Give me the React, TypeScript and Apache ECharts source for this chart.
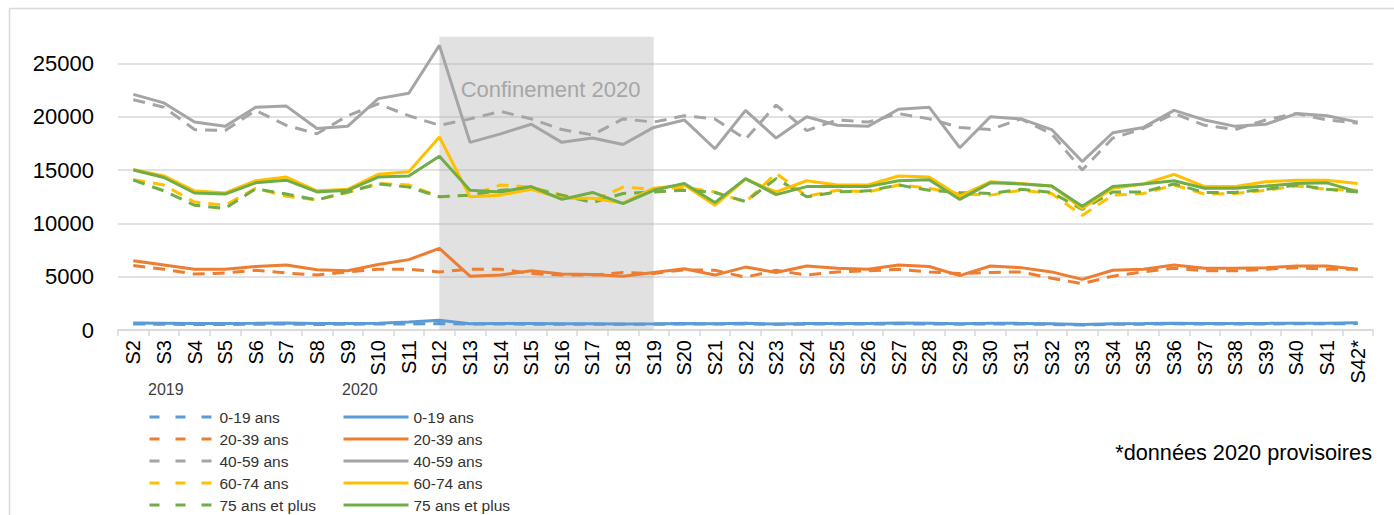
import React, { useEffect, useRef } from 'react';
import * as echarts from 'echarts';

const categories = [
  'S2', 'S3', 'S4', 'S5', 'S6', 'S7', 'S8', 'S9', 'S10', 'S11', 'S12', 'S13', 'S14', 'S15',
  'S16', 'S17', 'S18', 'S19', 'S20', 'S21', 'S22', 'S23', 'S24', 'S25', 'S26', 'S27', 'S28',
  'S29', 'S30', 'S31', 'S32', 'S33', 'S34', 'S35', 'S36', 'S37', 'S38', 'S39', 'S40', 'S41', 'S42*',
];

const ageGroups = ['0-19 ans', '20-39 ans', '40-59 ans', '60-74 ans', '75 ans et plus'];
const colors = ['#5b9bd5', '#ed7d31', '#a5a5a5', '#ffc000', '#70ad47'];

// 2019 (dashed)
const y2019_0_19 = [560, 540, 520, 520, 540, 560, 520, 540, 560, 570, 600, 560, 560, 540, 530, 530, 540, 540, 560, 560, 560, 540, 550, 560, 560, 580, 560, 550, 560, 560, 520, 470, 530, 550, 580, 560, 560, 570, 580, 580, 600];
const y2019_20_39 = [6050, 5700, 5250, 5350, 5600, 5350, 5150, 5450, 5700, 5700, 5450, 5700, 5700, 5300, 5150, 5150, 5400, 5300, 5650, 5600, 4950, 5600, 5150, 5450, 5550, 5700, 5450, 5300, 5400, 5450, 4850, 4350, 5050, 5450, 5800, 5550, 5550, 5700, 5850, 5700, 5700];
const y2019_40_59 = [21600, 20900, 18800, 18700, 20600, 19200, 18400, 20100, 21200, 20100, 19200, 19800, 20500, 19800, 18800, 18300, 19800, 19500, 20100, 19800, 17900, 21100, 18700, 19700, 19500, 20300, 19800, 19000, 18800, 19800, 18400, 15000, 18000, 18900, 20300, 19200, 18800, 19700, 20300, 19700, 19400];
const y2019_60_74 = [14100, 13600, 12000, 11700, 13300, 12550, 12200, 12900, 13750, 13600, 12500, 12650, 13600, 13400, 12650, 12100, 13400, 13200, 13400, 12950, 12000, 14700, 12550, 13100, 12950, 13600, 13300, 12750, 12650, 13100, 12800, 10750, 12650, 12800, 13600, 12750, 12800, 13100, 13500, 13200, 13100];
const y2019_75 = [14050, 13050, 11700, 11400, 13250, 12750, 12200, 12950, 13700, 13400, 12500, 12650, 13100, 13300, 12650, 11950, 12800, 12950, 13100, 12900, 12050, 14200, 12500, 12950, 13050, 13600, 13100, 12900, 12800, 13200, 12900, 11300, 12950, 12950, 13700, 12900, 12900, 13200, 13600, 13200, 12950];

// 2020 (solid)
const y2020_0_19 = [650, 640, 620, 620, 630, 660, 600, 610, 640, 740, 920, 580, 620, 610, 580, 590, 570, 580, 610, 580, 630, 570, 600, 610, 620, 660, 630, 590, 640, 620, 580, 510, 590, 610, 640, 620, 610, 620, 640, 640, 680];
const y2020_20_39 = [6500, 6100, 5700, 5700, 5950, 6100, 5650, 5550, 6150, 6600, 7650, 5050, 5150, 5550, 5250, 5200, 5050, 5400, 5750, 5150, 5900, 5400, 6000, 5800, 5700, 6100, 5950, 5100, 6000, 5850, 5450, 4750, 5600, 5700, 6100, 5800, 5800, 5850, 6000, 6000, 5700];
const y2020_40_59 = [22100, 21300, 19500, 19100, 20900, 21000, 18900, 19100, 21700, 22200, 26700, 17600, 18400, 19300, 17600, 18000, 17400, 19000, 19700, 17000, 20600, 18000, 20000, 19200, 19100, 20700, 20900, 17100, 20000, 19800, 18800, 15800, 18500, 19000, 20600, 19700, 19100, 19300, 20300, 20100, 19500];
const y2020_60_74 = [15050, 14450, 13050, 12850, 14000, 14350, 13050, 13200, 14600, 14850, 18100, 12500, 12650, 13200, 12350, 12350, 11900, 13300, 13600, 11700, 14150, 12950, 14000, 13600, 13600, 14450, 14350, 12550, 13900, 13750, 13500, 11400, 13300, 13700, 14600, 13450, 13450, 13900, 14050, 14050, 13750];
const y2020_75 = [15000, 14300, 12850, 12750, 13800, 14050, 12950, 13100, 14350, 14450, 16300, 13100, 12950, 13450, 12250, 12900, 11850, 13100, 13750, 11950, 14200, 12700, 13450, 13450, 13450, 14000, 14100, 12250, 13800, 13700, 13500, 11600, 13450, 13700, 14000, 13300, 13300, 13500, 13750, 13800, 12950];

const data2019 = [y2019_0_19, y2019_20_39, y2019_40_59, y2019_60_74, y2019_75];
const data2020 = [y2020_0_19, y2020_20_39, y2020_40_59, y2020_60_74, y2020_75];

const yearLabels = ['2019', '2020'];
const lockdownStart = 'S12';
const lockdownEnd = 'S19';
const lockdownLabel = 'Confinement 2020';
const footnote = '*données 2020 provisoires';

export default function App() {
  const ref = useRef<HTMLDivElement>(null);

  useEffect(() => {
    if (!ref.current) return;
    const chart = echarts.init(ref.current, null, { renderer: 'svg' });
    const font = 'Liberation Sans';
    const yMax = 27500;

    const names2019 = ageGroups.map((g) => g + ' (2019)');
    const names2020 = ageGroups.map((g) => g + ' (2020)');

    const series: any[] = [];
    series.push({
      name: 'lockdown',
      type: 'line',
      data: categories.map(() => null),
      symbol: 'none',
      silent: true,
      z: 1,
      markArea: {
        silent: true,
        z: 1,
        itemStyle: { color: 'rgba(170,170,170,0.35)' },
        label: {
          show: true,
          position: 'insideTop',
          distance: 42,
          offset: [4, 0],
          formatter: lockdownLabel,
          color: '#a6a6a6',
          fontSize: 22,
          fontFamily: font,
        },
        data: [[{ xAxis: lockdownStart, yAxis: 0 }, { xAxis: lockdownEnd, yAxis: yMax }]],
      },
    });
    ageGroups.forEach((g, i) => {
      series.push({
        name: names2019[i],
        type: 'line',
        data: data2019[i],
        symbol: 'none',
        z: 2,
        itemStyle: { color: colors[i] },
        lineStyle: { color: colors[i], width: 3, type: [12, 8], cap: 'butt' },
      });
    });
    ageGroups.forEach((g, i) => {
      series.push({
        name: names2020[i],
        type: 'line',
        data: data2020[i],
        symbol: 'none',
        z: 3,
        itemStyle: { color: colors[i] },
        lineStyle: { color: colors[i], width: 3, type: 'solid' },
      });
    });

    const stripYear = (n: string) => n.replace(/ \((2019|2020)\)$/, '');
    const legendCommon = {
      orient: 'vertical',
      itemWidth: 65,
      itemHeight: 14,
      itemGap: 6,
      padding: 0,
      height: 115,
      formatter: stripYear,
      selectedMode: false,
      itemStyle: { opacity: 0, borderWidth: 0 },
      textStyle: { color: '#333', fontSize: 15.5, fontFamily: font, lineHeight: 14 },
    };

    const option: any = {
      animation: false,
      backgroundColor: '#fff',
      grid: { left: 118, right: 21, top: 36.8, bottom: 185, containLabel: false },
      xAxis: {
        type: 'category',
        data: categories,
        boundaryGap: true,
        axisLine: { show: true, lineStyle: { color: '#d9d9d9', width: 1.5 } },
        axisTick: { show: true, length: 6, lineStyle: { color: '#d9d9d9', width: 1.5 } },
        axisLabel: {
          interval: 0,
          rotate: 90,
          margin: 10,
          color: '#000',
          fontSize: 20,
          fontFamily: font,
        },
      },
      yAxis: {
        type: 'value',
        min: 0,
        max: yMax,
        interval: 5000,
        axisLine: { show: false },
        axisTick: { show: false },
        axisLabel: {
          showMaxLabel: false,
          margin: 24,
          color: '#000',
          fontSize: 22,
          fontFamily: font,
          formatter: (v: number) => String(v),
        },
        splitLine: {
          show: true,
          showMaxLine: false,
          lineStyle: { color: '#d9d9d9', width: 1.5 },
        },
      },
      legend: [
        {
          ...legendCommon,
          data: names2019,
          left: 148,
          top: 409,
          lineStyle: { type: [10, 16], width: 3 },
        },
        {
          ...legendCommon,
          data: names2020,
          left: 342,
          top: 409,
          lineStyle: { width: 3 },
        },
      ],
      graphic: [
        {
          type: 'line',
          silent: true,
          shape: { x1: 9.5, y1: 8.5, x2: 1394, y2: 8.5 },
          style: { stroke: '#d9d9d9', lineWidth: 1.5 },
        },
        {
          type: 'line',
          silent: true,
          shape: { x1: 9.5, y1: 8.5, x2: 9.5, y2: 515 },
          style: { stroke: '#d9d9d9', lineWidth: 1.5 },
        },
        {
          type: 'text',
          left: 148,
          top: 381,
          style: { text: yearLabels[0], fill: '#404040', fontSize: 16, fontFamily: font },
        },
        {
          type: 'text',
          left: 342,
          top: 381,
          style: { text: yearLabels[1], fill: '#404040', fontSize: 16, fontFamily: font },
        },
        {
          type: 'text',
          right: 22,
          top: 441,
          style: { text: footnote, fill: '#000', fontSize: 21.7, fontFamily: font },
        },
      ],
      series,
    };

    chart.setOption(option);
    return () => chart.dispose();
  }, []);

  return (
    <div
      ref={ref}
      style={{ position: 'absolute', left: 0, top: 0, width: 1394, height: 515 }}
    />
  );
}
